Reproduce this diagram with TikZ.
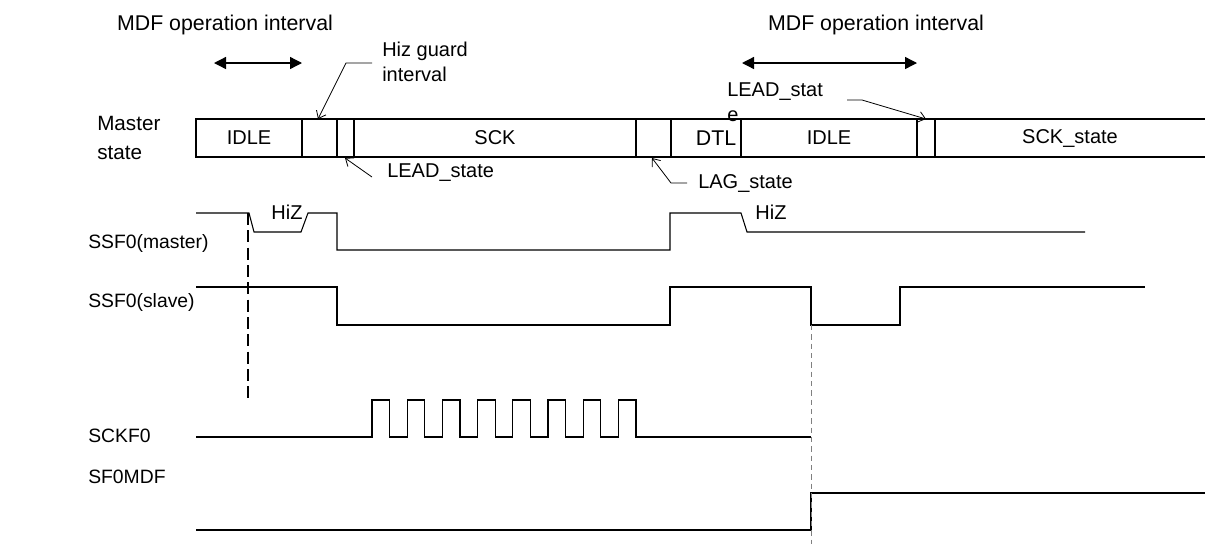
\documentclass[tikz,border=0pt]{standalone}
\usepackage{fontspec}
\setmainfont{Liberation Sans}
\usetikzlibrary{arrows.meta}
\begin{document}
\begin{tikzpicture}[x=0.75pt,y=-0.75pt,
  sig/.style={line width=0.8pt, black},
  txt/.style={font=\fontsize{15}{18.5}\selectfont, inner sep=0pt},
  ttl/.style={font=\fontsize{16}{19}\selectfont, inner sep=0pt},
  sname/.style={font=\fontsize{14.5}{17}\selectfont, inner sep=0pt, anchor=west},
  lead/.style={line width=0.6pt, -{Straight Barb[length=5pt,width=8pt]}},
  dbl/.style={line width=1pt, {Triangle[length=9pt,width=9pt]}-{Triangle[length=9pt,width=9pt]}}
]
\useasboundingbox (0,0) rectangle (1205,544);

% titles
\node[ttl] (t1) at (225,25) {MDF operation interval};
\node[ttl] (t2) at (876,25) {MDF operation interval};
\coordinate (a1l) at (214,63); \coordinate (a1r) at (302,63);
\coordinate (a2l) at (742,63); \coordinate (a2r) at (917,63);
\draw[dbl] (a1l) -- (a1r);
\draw[dbl] (a2l) -- (a2r);

% master state bar
\node[txt, anchor=west, align=left, font=\fontsize{15.5}{22}\selectfont] (ms) at (97,138) {Master\\state};
\draw[sig] (1205,119) -- (196,119) -- (196,157) -- (1205,157);
\foreach \x in {302,337,354,636,671,741,917,935} \draw[sig] (\x,119) -- (\x,157);
\node[txt] (s1) at (249,138) {IDLE};
\node[txt] (s2) at (495,138) {SCK};
\node[txt, font=\fontsize{16}{19}\selectfont] (s3) at (716,138) {DTL};
\node[txt] (s4) at (829,138) {IDLE};
\node[txt] (s5) at (1070,138) {SCK\_state};

% annotations
\node[txt, anchor=west, align=left] (hiz) at (382,62) {Hiz guard\\interval};
\coordinate (hizA) at (372,63); \coordinate (hizB) at (346,63); \coordinate (hizT) at (318,119);
\draw[lead] (hizA) -- (hizB) -- (hizT);

\node[txt, anchor=west] (lead1) at (387,173) {LEAD\_state};
\coordinate (l1A) at (372,177); \coordinate (l1T) at (345,158);
\draw[lead] (l1A) -- (l1T);

\node[txt, anchor=west] (lag) at (698,183) {LAG\_state};
\coordinate (lgA) at (687,183); \coordinate (lgB) at (671,183); \coordinate (lgT) at (652,158);
\draw[lead] (lgA) -- (lgB) -- (lgT);

\node[txt, anchor=west, align=left] (lead2) at (727,102) {LEAD\_stat\\e};
\coordinate (l2A) at (847,100); \coordinate (l2B) at (862,100); \coordinate (l2T) at (926,119);
\draw[lead] (l2A) -- (l2B) -- (l2T);

% signal labels
\node[sname] (n1) at (88,243) {SSF0(master)};
\node[sname] (n2) at (88,302) {SSF0(slave)};
\node[sname] (n3) at (88,436) {SCKF0};
\node[sname] (n4) at (88,477) {SF0MDF};

% SSF0(master)
\draw[sig] (196,213) -- (249,213) -- (254,232) -- (301,232) -- (308,213) -- (337,213) -- (337,250) -- (670,250) -- (670,213) -- (741,213) -- (747,232) -- (1085,232);
\node[txt] (hz1) at (287,212) {HiZ};
\node[txt] (hz2) at (771,212) {HiZ};

% SSF0(slave)
\draw[sig] (196,287) -- (337,287) -- (337,325) -- (670,325) -- (670,287) -- (811,287) -- (811,325) -- (900,325) -- (900,287) -- (1145,287);

% SCKF0
\draw[sig] (196,437) -- (372,437)
  \foreach \k in {0,...,7} { -- ++(0,-37) -- ++(17.6,0) -- ++(0,37) -- ++(17.6,0) }
  -- (811,437);

% SF0MDF
\draw[sig] (196,530) -- (811,530) -- (811,493) -- (1205,493);

% guide lines
\draw[line width=1.5pt, dash pattern=on 9pt off 4pt] (248,213) -- (248,400);
\draw[line width=0.6pt, gray, dash pattern=on 4pt off 3pt] (811,325) -- (811,544);
\end{tikzpicture}
\end{document}
